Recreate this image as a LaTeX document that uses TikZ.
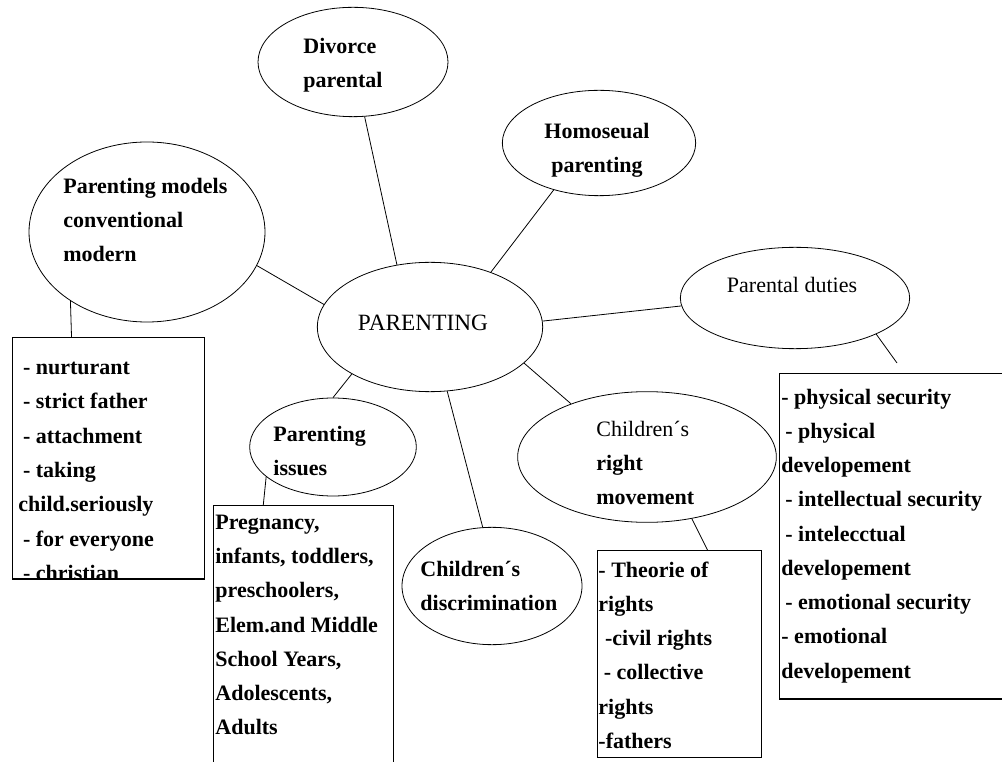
\documentclass[tikz,border=0pt]{standalone}
\usepackage{fontspec}
\setmainfont{Liberation Serif}
\usepackage{tikz}
\usetikzlibrary{shapes.geometric}

\newcommand{\mapfont}{\fontsize{16.5}{25.7}\selectfont}

\begin{document}
\begin{tikzpicture}[x=0.75pt, y=-0.75pt, line width=0.6pt,
  topic/.style={draw, ellipse, inner sep=0pt},
  topictext/.style={align=left, inner sep=0pt, font=\mapfont\bfseries},
  listbox/.style={draw, rectangle, line width=0.9pt, inner sep=0pt, anchor=north west},
  listtext/.style={align=left, anchor=north west, inner sep=0pt, font=\mapfont\bfseries}]
  \useasboundingbox (0,0) rectangle (1002,762);

  % --- ellipses ------------------------------------------------------------
  \node[topic, minimum width=169pt, minimum height=97pt] (parenting) at (430,327) {};
  \node[topic, minimum width=142.5pt, minimum height=82pt] (divorce) at (353,62) {};
  \node[topic, minimum width=177pt, minimum height=135pt] (models) at (147,232) {};
  \node[topic, minimum width=145pt, minimum height=79pt] (homo) at (599,143) {};
  \node[topic, minimum width=172pt, minimum height=76pt] (duties) at (795,298) {};
  \node[topic, minimum width=125pt, minimum height=73.5pt] (issues) at (333,447) {};
  \node[topic, minimum width=135pt, minimum height=88pt] (discrim) at (492,586) {};
  \node[topic, minimum width=194pt, minimum height=98pt] (rights) at (647,457) {};

  \node[topictext, font=\fontsize{17.5}{25.7}\selectfont] (parenting-t) at (423,323) {PARENTING};
  \node[topictext, anchor=west] (divorce-t) at (303,65) {Divorce\\parental};
  \node[topictext, anchor=west] (models-t) at (63,220) {Parenting models\\conventional\\modern};
  \node[topictext, align=center] (homo-t) at (597,150) {Homoseual\\parenting};
  \node[topictext, font=\mapfont] (duties-t) at (792,285) {Parental duties};
  \node[topictext, anchor=west] (issues-t) at (273,451) {Parenting\\issues};
  \node[topictext, anchor=west] (discrim-t) at (420,586) {Children´s\\discrimination};
  \node[topictext, anchor=west] (rights-t) at (596,463) {{\mdseries Children´s}\\right\\movement};

  % --- boxes ---------------------------------------------------------------
  \node[listbox, minimum width=144pt, minimum height=181pt] (mbox) at (12,337) {};
  \node[listbox, minimum width=135pt, minimum height=210pt] (ibox) at (213,505) {};
  \node[listbox, minimum width=123pt, minimum height=155pt] (rbox) at (597,550) {};
  \node[listbox, minimum width=177pt, minimum height=244pt] (dbox) at (779,373) {};

  \begin{scope}
    \clip (mbox.north west) rectangle (mbox.south east);
    \node[listtext] (mbox-t) at ([xshift=4.5pt, yshift=-10pt]mbox.north west)
      {\strut\hspace*{3.5pt}- nurturant\\\hspace*{3.5pt}- strict father\\\hspace*{3.5pt}- attachment\\
       \hspace*{3.5pt}- taking\\child.seriously\\\hspace*{3.5pt}- for everyone\\\hspace*{3.5pt}- christian};
  \end{scope}
  \node[listtext] (ibox-t) at ([xshift=1.5pt, yshift=0pt]ibox.north west)
    {\strut Pregnancy,\\infants, toddlers,\\preschoolers,\\Elem.and Middle\\School Years,\\Adolescents,\\Adults};
  \node[listtext] (rbox-t) at ([xshift=0.8pt, yshift=-2pt]rbox.north west)
    {\strut- Theorie of\\rights\\\hspace*{5pt}-civil rights\\\hspace*{4pt}- collective\\rights\\-fathers};
  \node[listtext] (dbox-t) at ([xshift=1.5pt, yshift=-5pt]dbox.north west)
    {\strut- physical security\\\hspace*{3pt}- physical\\developement\\\hspace*{3pt}- intellectual security\\
     \hspace*{3pt}- intelecctual\\developement\\\hspace*{3pt}- emotional security\\- emotional\\developement};

  % --- connectors ----------------------------------------------------------
  \coordinate (dtick) at (897,363);
  \draw (divorce.282) -- (parenting.118);
  \draw (models.343) -- (parenting.168);
  \draw (homo.226) -- (parenting.42);
  \draw (duties.184) -- (parenting.3);
  \draw (parenting.211) -- (issues.90);
  \draw (parenting.285) -- (discrim.99);
  \draw (parenting.339) -- (rights.145);
  \draw (models.222) -- (mbox.107);
  \draw (issues.204) -- (ibox.106);
  \draw (rights.306) -- (rbox.75);
  \draw (duties.336) -- (dtick);
\end{tikzpicture}
\end{document}
